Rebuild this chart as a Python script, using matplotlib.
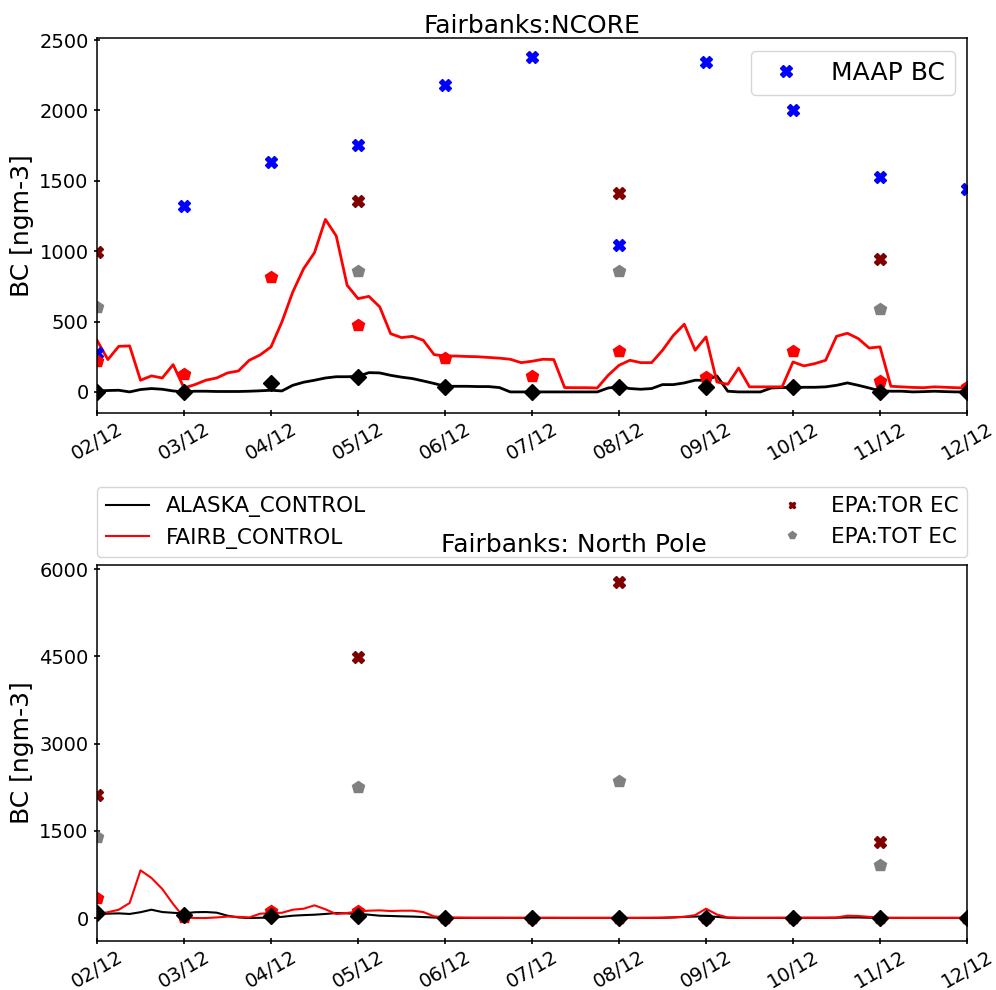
import numpy as np
import matplotlib.pyplot as plt

month_labels = ['02/12', '03/12', '04/12', '05/12', '06/12', '07/12',
                '08/12', '09/12', '10/12', '11/12', '12/12']
epa_months = [0, 3, 6, 9]

# model time series, 8 samples per month (month index 0..10)
fairb_ncore = [367, 230, 324, 327, 83, 114, 99, 194,
               28, 52, 83, 99, 135, 149, 225, 263,
               320, 497, 710, 876, 990, 1226, 1108, 758,
               663, 679, 604, 414, 386, 395, 367, 265,
               256, 255, 252, 250, 245, 240, 232, 208,
               218, 232, 230, 31, 30, 30, 28, 118,
               189, 225, 208, 208, 296, 402, 481, 296,
               391, 71, 54, 170, 36, 36, 36, 36,
               213, 185, 201, 225, 395, 417, 379, 312,
               320, 40, 36, 32, 30, 36, 33, 30,
               28]
alaska_ncore = [7, 10, 12, 0, 17, 24, 19, 7,
                0, 5, 5, 3, 3, 3, 5, 8,
                12, 7, 47, 69, 83, 99, 108, 108,
                110, 137, 135, 118, 105, 95, 78, 60,
                40, 40, 40, 38, 38, 31, 0, 0,
                0, 0, 0, 0, 0, 0, 0, 28,
                36, 24, 19, 24, 52, 52, 64, 83,
                83, 114, 5, 0, 0, 0, 28, 31,
                31, 33, 33, 36, 47, 64, 47, 28,
                7, 5, 5, 0, 2, 5, 2, 0,
                0]
fairb_np = [60, 100, 143, 258, 820, 690, 500, 240,
            10, 0, 0, 10, 25, 20, 10, 74,
            86, 90, 143, 160, 218, 150, 69, 86,
            115, 126, 132, 120, 126, 126, 103, 29,
            11, 8, 6, 5, 5, 5, 4, 4,
            4, 4, 4, 3, 3, 3, 3, 3,
            3, 3, 3, 4, 6, 12, 20, 50,
            160, 60, 10, 5, 4, 4, 4, 5,
            6, 6, 6, 6, 8, 40, 35, 20,
            10, 4, 3, 3, 3, 3, 3, 3,
            3]
alaska_np = [69, 75, 80, 70, 100, 143, 103, 90,
             80, 100, 103, 92, 40, 10, 0, 5,
             5, 20, 40, 50, 57, 70, 86, 80,
             69, 57, 40, 35, 29, 25, 17, 8,
             0, 2, 2, 2, 2, 2, 2, 2,
             2, 2, 2, 2, 2, 2, 2, 2,
             2, 2, 2, 2, 4, 10, 20, 25,
             29, 20, 5, 2, 2, 2, 2, 2,
             3, 3, 3, 3, 5, 10, 10, 5,
             2, 2, 2, 2, 2, 2, 2, 2,
             2]

# monthly values, NCORE
maap_bc = [275, 1323, 1636, 1754, 2180, 2379, 1044, 2344, 2003, 1527, 1442]
fairb_monthly_ncore = [220, 128, 815, 476, 239, 114, 291, 109, 293, 78, 38]
alaska_monthly_ncore = [0, 0, 66, 104, 33, 2, 38, 33, 38, 2, 2]
epa_tor_ncore = [993, 1357, 1413, 944]
epa_tot_ncore = [606, 859, 859, 590]

# monthly values, North Pole
fairb_monthly_np = [344, 10, 126, 115, 5, 3, 3, 5, 5, 5, 3]
alaska_monthly_np = [86, 57, 29, 29, 0, 0, 0, 2, 0, 0, 0]
epa_tor_np = [2119, 4496, 5773, 1306]
epa_tot_np = [1392, 2251, 2348, 905]

t = np.arange(len(fairb_ncore)) / 8.0
months = np.arange(len(month_labels))

fig = plt.figure(figsize=(9.96, 9.9), dpi=100)
ax1 = fig.add_axes([0.0974, 0.5828, 0.8735, 0.3788])
ax2 = fig.add_axes([0.0974, 0.0495, 0.8735, 0.3798])

# ---- top: NCORE
ax1.plot(t, alaska_ncore, color='black', lw=2)
ax1.plot(t, fairb_ncore, color='red', lw=2)
maap, = ax1.plot(months, maap_bc, 'X', color='blue', ms=8, ls='none', label='MAAP BC')
ax1.plot(epa_months, epa_tor_ncore, 'X', color='#800000', ms=8, ls='none')
ax1.plot(epa_months, epa_tot_ncore, 'p', color='grey', ms=9, ls='none')
ax1.plot(months, fairb_monthly_ncore, 'p', color='red', ms=9, ls='none')
ax1.plot(months, alaska_monthly_ncore, 'D', color='black', ms=8, ls='none')
ax1.legend(handles=[maap], loc='upper right', fontsize=18)
ax1.set_title('Fairbanks:NCORE', fontsize=18, pad=0)
ax1.set_ylabel('BC [ngm-3]', fontsize=18)
ax1.set_ylim(-150, 2515)
ax1.set_yticks([0, 500, 1000, 1500, 2000, 2500])

# ---- bottom: North Pole
l1, = ax2.plot(t, alaska_np, color='black', lw=1.5, label='ALASKA_CONTROL')
l2, = ax2.plot(t, fairb_np, color='red', lw=1.5, label='FAIRB_CONTROL')
p1, = ax2.plot(epa_months, epa_tor_np, 'X', color='#800000', ms=8, ls='none', label='EPA:TOR EC')
p2, = ax2.plot(epa_months, epa_tot_np, 'p', color='grey', ms=9, ls='none', label='EPA:TOT EC')
ax2.plot(months, fairb_monthly_np, 'p', color='red', ms=9, ls='none')
ax2.plot(months, alaska_monthly_np, 'D', color='black', ms=8, ls='none')
ttl = ax2.set_title('Fairbanks: North Pole', fontsize=18, x=0.548, pad=9)
ax2.set_ylabel('BC [ngm-3]', fontsize=18)
ax2.set_ylim(-395, 6070)
ax2.set_yticks([0, 1500, 3000, 4500, 6000])
ax2.legend(handles=[l1, l2, p1, p2], loc='lower left', bbox_to_anchor=(0., 1.02, 1., .102),
           mode='expand', ncol=2, borderaxespad=0., fontsize=15.5, markerscale=0.6)
ttl.set_zorder(10)

for ax in (ax1, ax2):
    ax.set_xlim(0, 10)
    ax.set_xticks(months)
    ax.set_xticklabels(month_labels, rotation=30)
    ax.tick_params(direction='inout', length=5, width=1.2, labelsize=14)
    ax.tick_params(axis='x', pad=2)
    for s in ax.spines.values():
        s.set_linewidth(1.1)

plt.savefig('out.png', dpi=100)
plt.close()
